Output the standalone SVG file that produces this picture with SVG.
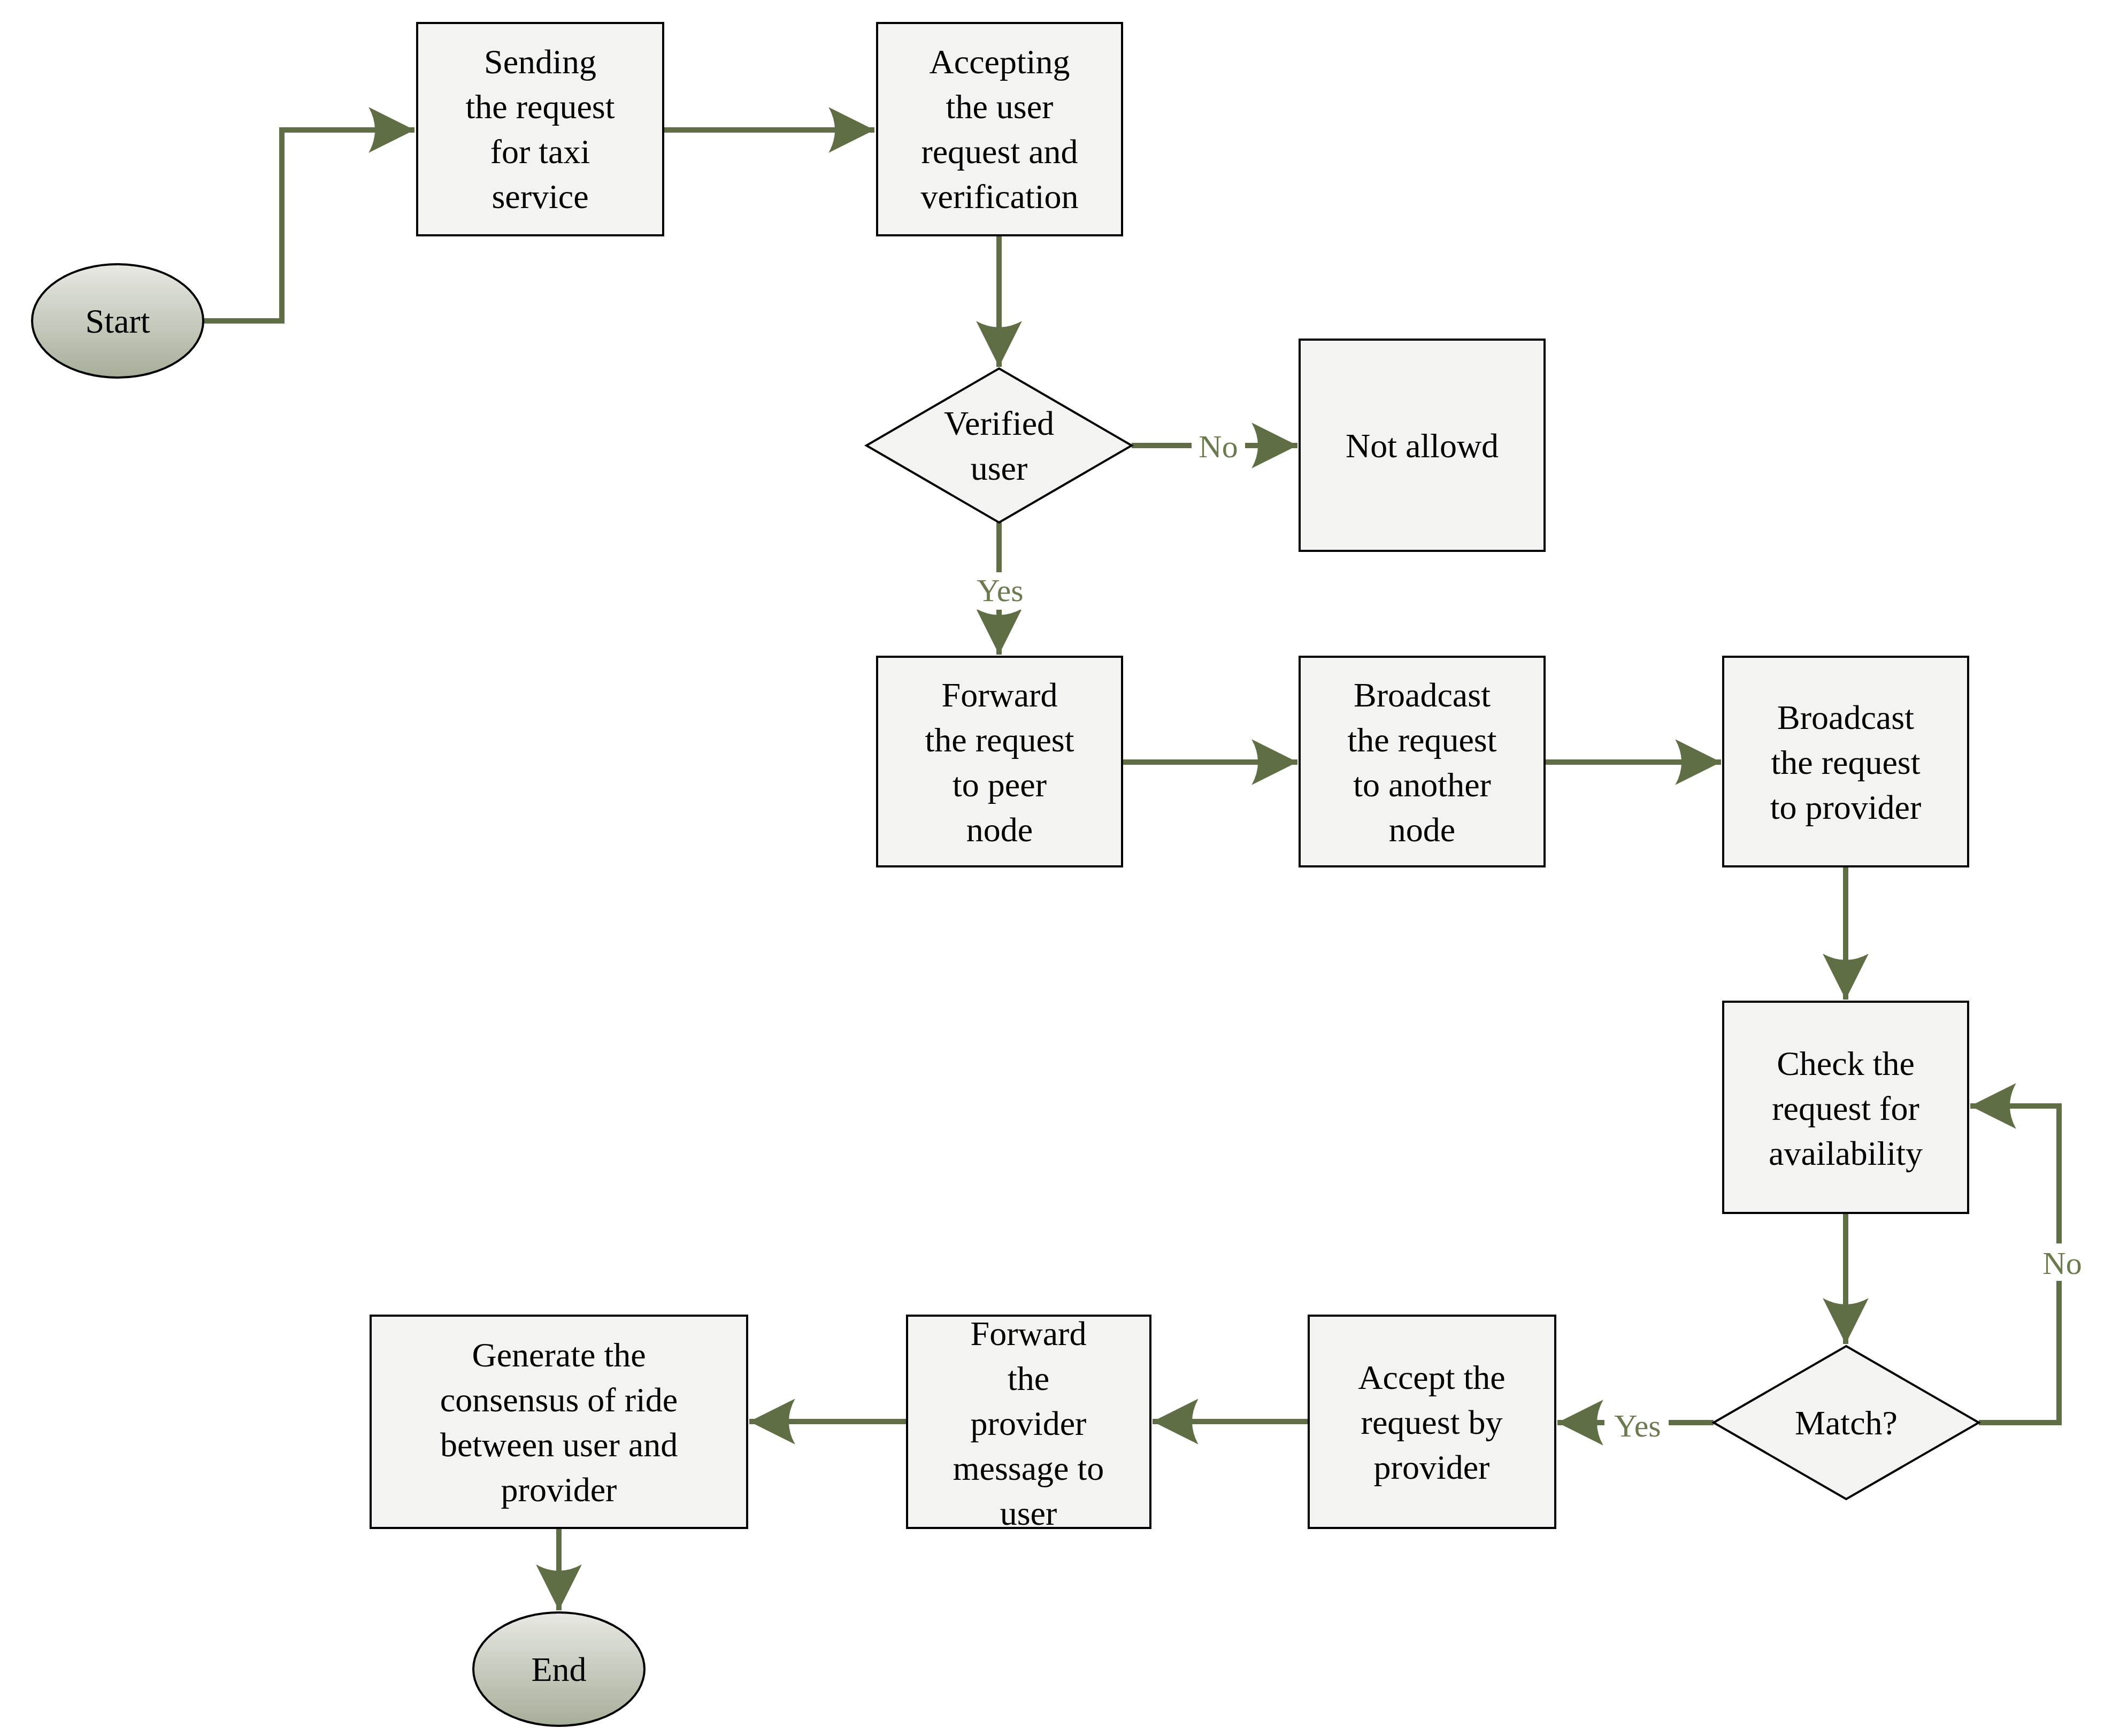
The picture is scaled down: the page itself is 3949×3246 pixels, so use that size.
<svg xmlns="http://www.w3.org/2000/svg" width="3949" height="3246" viewBox="0 0 3949 3246">
<style>
.b{fill:#f3f3f1;stroke:#000;stroke-width:4}
.t{font-family:"Liberation Serif",serif;font-size:64px;text-anchor:middle;fill:#000}
.c{fill:none;stroke:#5f6e44;stroke-width:10}
.l{font-family:"Liberation Serif",serif;font-size:60px;text-anchor:middle;fill:#6b7b4f}
</style>
<defs>
<linearGradient id="g" x1="0" y1="0" x2="0" y2="1"><stop offset="0" stop-color="#e8e9e4"/><stop offset="1" stop-color="#a6ae99"/></linearGradient>
<marker id="a" markerUnits="userSpaceOnUse" markerWidth="90" markerHeight="90" viewBox="-82 -42 84 84" refX="0" refY="0" orient="auto"><path d="M0,0 L-80,-40 Q-58,0 -80,40 Z" fill="#5f6e44"/></marker>
</defs>
<g id="connectors">
<polyline class="c" points="380,600 527,600 527,243 775,243" marker-end="url(#a)"/>
<line class="c" x1="1240" y1="243" x2="1635" y2="243" marker-end="url(#a)"/>
<line class="c" x1="1868" y1="440" x2="1868" y2="686" marker-end="url(#a)"/>
<line class="c" x1="2116" y1="833" x2="2426" y2="833" marker-end="url(#a)"/>
<line class="c" x1="1868" y1="977" x2="1868" y2="1224" marker-end="url(#a)"/>
<line class="c" x1="2098" y1="1425" x2="2426" y2="1425" marker-end="url(#a)"/>
<line class="c" x1="2888" y1="1425" x2="3218" y2="1425" marker-end="url(#a)"/>
<line class="c" x1="3451" y1="1620" x2="3451" y2="1869" marker-end="url(#a)"/>
<line class="c" x1="3451" y1="2268" x2="3451" y2="2513" marker-end="url(#a)"/>
<polyline class="c" points="3700,2660 3850,2660 3850,2068 3684,2068" marker-end="url(#a)"/>
<line class="c" x1="3204" y1="2660" x2="2912" y2="2660" marker-end="url(#a)"/>
<line class="c" x1="2447" y1="2658" x2="2155" y2="2658" marker-end="url(#a)"/>
<line class="c" x1="1696" y1="2658" x2="1401" y2="2658" marker-end="url(#a)"/>
<line class="c" x1="1045" y1="2857" x2="1045" y2="3011" marker-end="url(#a)"/>
<rect x="2228" y="795" width="100" height="70" fill="#fff"/><text class="l" x="2278" y="855">No</text>
<rect x="1810" y="1070" width="120" height="70" fill="#fff"/><text class="l" x="1870" y="1124">Yes</text>
<rect x="3805" y="2325" width="100" height="70" fill="#fff"/><text class="l" x="3856" y="2382">No</text>
<rect x="3000" y="2630" width="120" height="70" fill="#fff"/><text class="l" x="3062" y="2686">Yes</text>
</g>
<g id="start"><ellipse cx="220" cy="600" rx="160" ry="106" fill="url(#g)" stroke="#000" stroke-width="4"/><text class="t" x="220" y="622">Start</text></g>
<g id="sending"><rect class="b" x="780" y="43" width="460" height="397"/><text class="t" x="1010"><tspan x="1010" y="137">Sending</tspan><tspan x="1010" y="221">the request</tspan><tspan x="1010" y="305">for taxi</tspan><tspan x="1010" y="389">service</tspan></text></g>
<g id="accepting"><rect class="b" x="1640" y="43" width="458" height="397"/><text class="t"><tspan x="1869" y="137">Accepting</tspan><tspan x="1869" y="221">the user</tspan><tspan x="1869" y="305">request and</tspan><tspan x="1869" y="389">verification</tspan></text></g>
<g id="verified"><polygon class="b" points="1868,689 2116,833 1868,977 1620,833"/><text class="t"><tspan x="1868" y="813">Verified</tspan><tspan x="1868" y="897">user</tspan></text></g>
<g id="notallowed"><rect class="b" x="2430" y="635" width="458" height="395"/><text class="t" x="2659" y="855">Not allowd</text></g>
<g id="forward"><rect class="b" x="1640" y="1228" width="458" height="392"/><text class="t"><tspan x="1869" y="1321">Forward</tspan><tspan x="1869" y="1405">the request</tspan><tspan x="1869" y="1489">to peer</tspan><tspan x="1869" y="1573">node</tspan></text></g>
<g id="broadcast1"><rect class="b" x="2430" y="1228" width="458" height="392"/><text class="t"><tspan x="2659" y="1321">Broadcast</tspan><tspan x="2659" y="1405">the request</tspan><tspan x="2659" y="1489">to another</tspan><tspan x="2659" y="1573">node</tspan></text></g>
<g id="broadcast2"><rect class="b" x="3222" y="1228" width="458" height="392"/><text class="t"><tspan x="3451" y="1363">Broadcast</tspan><tspan x="3451" y="1447">the request</tspan><tspan x="3451" y="1531">to provider</tspan></text></g>
<g id="check"><rect class="b" x="3222" y="1873" width="458" height="395"/><text class="t"><tspan x="3451" y="2010">Check the</tspan><tspan x="3451" y="2094">request for</tspan><tspan x="3451" y="2178">availability</tspan></text></g>
<g id="match"><polygon class="b" points="3452,2517 3700,2660 3452,2803 3204,2660"/><text class="t" x="3452" y="2682">Match?</text></g>
<g id="acceptprov"><rect class="b" x="2447" y="2460" width="461" height="397"/><text class="t"><tspan x="2677" y="2597">Accept the</tspan><tspan x="2677" y="2681">request by</tspan><tspan x="2677" y="2765">provider</tspan></text></g>
<g id="forwardmsg"><rect class="b" x="1696" y="2460" width="455" height="397"/><text class="t"><tspan x="1923" y="2515">Forward</tspan><tspan x="1923" y="2599">the</tspan><tspan x="1923" y="2683">provider</tspan><tspan x="1923" y="2767">message to</tspan><tspan x="1923" y="2851">user</tspan></text></g>
<g id="generate"><rect class="b" x="693" y="2460" width="704" height="397"/><text class="t"><tspan x="1045" y="2555">Generate the</tspan><tspan x="1045" y="2639">consensus of ride</tspan><tspan x="1045" y="2723">between user and</tspan><tspan x="1045" y="2807">provider</tspan></text></g>
<g id="end"><ellipse cx="1045" cy="3121" rx="160" ry="106" fill="url(#g)" stroke="#000" stroke-width="4"/><text class="t" x="1045" y="3143">End</text></g>
</svg>
